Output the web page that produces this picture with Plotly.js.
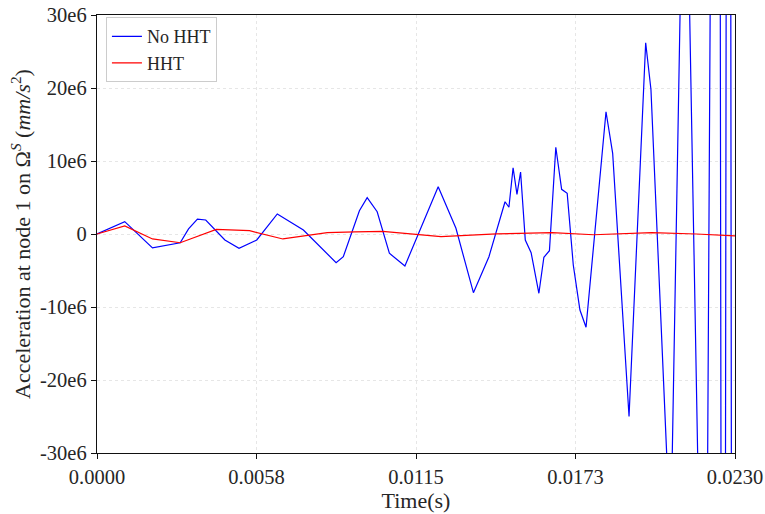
<!DOCTYPE html>
<html>
<head>
<meta charset="utf-8">
<script src="https://cdn.plot.ly/plotly-3.0.1.min.js"></script>
<style>
  html, body { margin: 0; padding: 0; background: #fff; }
  #chart { width: 765px; height: 514px; }
</style>
</head>
<body>
<div id="chart"></div>
<script>
// Acceleration history at node 1, without and with HHT time integration
const timeNoHHT = [
  0.0000, 0.0010, 0.0020, 0.0030, 0.0033, 0.00362, 0.00392, 0.00461, 0.00512, 0.00576,
  0.0065, 0.00744, 0.00862, 0.00888, 0.00946, 0.00974, 0.0101, 0.01054, 0.0111, 0.0123,
  0.01294, 0.01357, 0.01413, 0.01471, 0.01485, 0.0150, 0.01514, 0.01527, 0.01544, 0.01565,
  0.01593, 0.01611, 0.01631, 0.01654, 0.01675, 0.01695, 0.01717, 0.01741, 0.01763, 0.01835,
  0.01859, 0.01918, 0.01978, 0.01997, 0.02068, 0.02119, 0.02193, 0.02239, 0.02258, 0.02277,
  0.02295
];
const accNoHHT = [
  0, 1.7e6, -1.9e6, -1.2e6, 0.7e6, 2.05e6, 1.92e6, -0.82e6, -1.96e6, -0.82e6,
  2.74e6, 0.55e6, -3.93e6, -3.1e6, 3.19e6, 4.97e6, 3.05e6, -2.64e6, -4.38e6, 6.48e6,
  0.78e6, -8.04e6, -3.11e6, 4.42e6, 3.66e6, 9.08e6, 5.44e6, 8.49e6, -0.82e6, -2.56e6,
  -8.12e6, -3.19e6, -2.29e6, 11.88e6, 6.12e6, 5.58e6, -4.25e6, -10.41e6, -12.78e6, 16.75e6,
  11.05e6, -25.0e6, 26.2e6, 19.8e6, -42.7e6, 66.8e6, -87.7e6, 224e6, -238e6, 271e6,
  -278e6
];

const timeHHT = [
  0.0000, 0.0010, 0.0020, 0.0030, 0.0043, 0.0055, 0.0067, 0.0083, 0.0093, 0.0103,
  0.0124, 0.0144, 0.0164, 0.0179, 0.0200, 0.0216, 0.0230
];
const accHHT = [
  0, 1.1e6, -0.68e6, -1.2e6, 0.64e6, 0.45e6, -0.68e6, 0.18e6, 0.3e6, 0.37e6,
  -0.37e6, 0.02e6, 0.18e6, -0.1e6, 0.18e6, 0.0e6, -0.27e6
];

const xTickVals = [0, 0.00575, 0.0115, 0.01725, 0.023];
const xTickText = ['0.0000', '0.0058', '0.0115', '0.0173', '0.0230'];
const yTickVals = [-30e6, -20e6, -10e6, 0, 10e6, 20e6, 30e6];
const yTickText = ['-30e6', '-20e6', '-10e6', '0', '10e6', '20e6', '30e6'];

const serif = 'Liberation Serif, serif';
const textColor = '#262626';

const traces = [
  {
    x: timeNoHHT, y: accNoHHT, name: 'No HHT', type: 'scatter', mode: 'lines',
    line: { color: '#0000ff', width: 1.2 }
  },
  {
    x: timeHHT, y: accHHT, name: 'HHT', type: 'scatter', mode: 'lines',
    line: { color: '#ff0000', width: 1.2 }
  }
];

const axisCommon = {
  showline: true, linecolor: '#111', linewidth: 1.2, mirror: true,
  ticks: 'outside', ticklen: 5, tickwidth: 1, tickcolor: '#111',
  showgrid: true, gridcolor: '#dcdcdc', gridwidth: 0.7, griddash: 'dot',
  zeroline: false, tickfont: { family: serif, size: 20.5, color: textColor }
};

const layout = {
  width: 765, height: 514,
  margin: { l: 97, r: 30, t: 15, b: 61 },
  paper_bgcolor: '#fff', plot_bgcolor: '#fff',
  showlegend: true,
  legend: {
    x: 0.014, y: 0.995, xanchor: 'left', yanchor: 'top',
    bgcolor: 'rgba(255,255,255,0.8)', bordercolor: '#cccccc', borderwidth: 1,
    font: { family: serif, size: 18, color: textColor },
    tracegroupgap: 0, entrywidth: 86
  },
  xaxis: Object.assign({}, axisCommon, {
    range: [0, 0.023], tickmode: 'array', tickvals: xTickVals, ticktext: xTickText,
    title: { text: 'Time(s)', font: { family: serif, size: 22, color: textColor }, standoff: 0 }
  }),
  yaxis: Object.assign({}, axisCommon, {
    range: [-30e6, 30e6], tickmode: 'array', tickvals: yTickVals, ticktext: yTickText,
    title: {
      text: 'Acceleration at node 1 on Ω<sup><i>S</i></sup> (<i>mm/s</i><sup>2</sup>)',
      font: { family: serif, size: 22, color: textColor }, standoff: 3
    }
  })
};

Plotly.newPlot('chart', traces, layout, { staticPlot: true, displayModeBar: false });
</script>
</body>
</html>
